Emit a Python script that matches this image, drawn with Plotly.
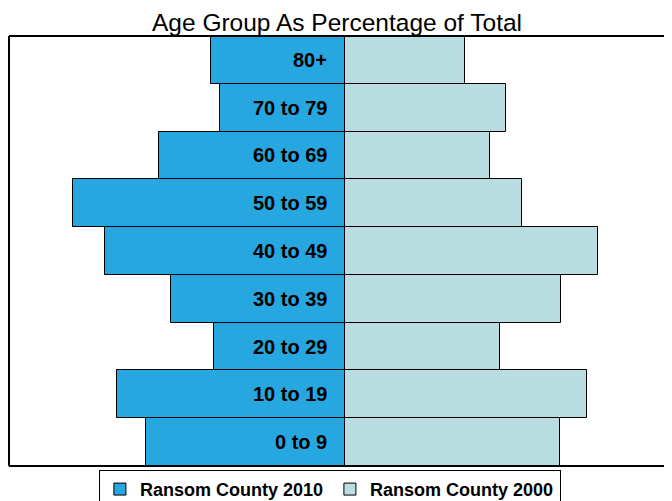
import plotly.graph_objects as go

categories = ["0 to 9", "10 to 19", "20 to 29", "30 to 39", "40 to 49",
              "50 to 59", "60 to 69", "70 to 79", "80+"]
pct_2010 = [11.8, 13.5, 7.75, 10.3, 14.2, 16.1, 11.0, 7.4, 7.93]
pct_2000 = [12.7, 14.3, 9.2, 12.8, 15.0, 10.5, 8.6, 9.5, 7.1]
series_names = ["Ransom County 2010", "Ransom County 2000"]

fig = go.Figure()
fig.add_trace(go.Bar(
    y=categories, x=[-v for v in pct_2010], orientation="h",
    name=series_names[0], marker=dict(color="#27A7DF", line=dict(color="black", width=1)),
    hoverinfo="skip"))
fig.add_trace(go.Bar(
    y=categories, x=pct_2000, orientation="h",
    name=series_names[1], marker=dict(color="#B9DDE1", line=dict(color="black", width=1)),
    hoverinfo="skip"))

for c in categories:
    fig.add_annotation(x=0, y=c, text="<b>%s</b>" % c, showarrow=False,
                       xanchor="right", xshift=-16,
                       font=dict(family="Liberation Sans, Arial", size=20, color="black"))

for x0, y0, x1, y1 in [(0, 0, 1, 0), (0, 1, 1, 1), (0, 0, 0, 1)]:
    fig.add_shape(type="line", xref="paper", yref="paper", x0=x0, y0=y0, x1=x1, y1=y1,
                  line=dict(color="black", width=2))

fig.update_layout(
    width=664, height=493,
    margin=dict(l=1, r=0, t=28, b=35, autoexpand=False),
    paper_bgcolor="white", plot_bgcolor="white",
    barmode="overlay", bargap=0,
    title=dict(text="Age Group As Percentage of Total", x=0.4955, xanchor="center",
               y=0.9716, yanchor="middle",
               font=dict(family="Liberation Sans, Arial", size=24.5, color="black")),
    xaxis=dict(range=[-19.88, 19.35], showgrid=False, zeroline=False,
               showticklabels=False, ticks="", showline=False, fixedrange=True),
    yaxis=dict(showgrid=False, zeroline=False, showticklabels=False, ticks="",
               showline=False, range=[-0.5, 8.5], categoryorder="array",
               categoryarray=categories),
    showlegend=True,
    legend=dict(orientation="h", x=0.484, xanchor="center", y=-0.009, yanchor="top",
                bordercolor="black", borderwidth=1, bgcolor="white",
                font=dict(family="Liberation Sans, Arial", size=18, color="black", weight="bold"),
                entrywidth=185, itemwidth=30, traceorder="normal"),
)

fig.write_html("out.html")
